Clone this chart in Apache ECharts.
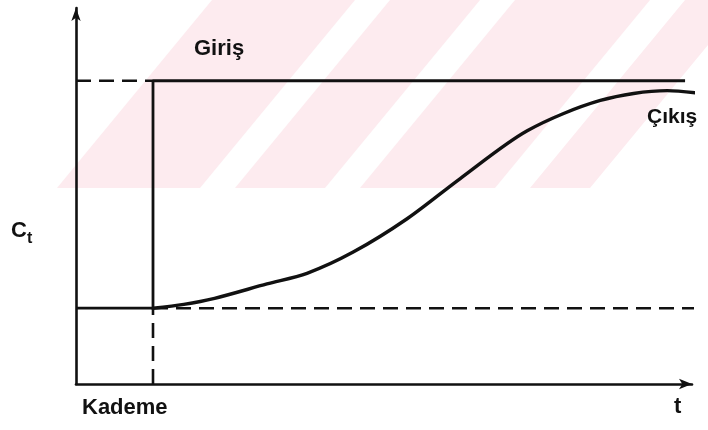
<!DOCTYPE html>
<html><head><meta charset="utf-8">
<script src="https://cdn.jsdelivr.net/npm/echarts@6/dist/echarts.min.js"></script>
<style>html,body{margin:0;padding:0;background:#fff}#c{width:708px;height:430px}</style>
</head><body><div id="c"></div>
<script>
// ---- data ----
const stepTime = 1;
const lowLevel = 1;
const highLevel = 4;
const inputEnd = 7.91;
const dashEnd = 8.25;
const outputTime  = [1.00, 1.40, 1.80, 2.48, 3.00, 3.60, 4.30, 4.99, 5.86, 6.81, 7.68, 8.06];
const outputValue = [1.00, 1.05, 1.13, 1.32, 1.46, 1.74, 2.18, 2.71, 3.34, 3.74, 3.87, 3.84];
const labels = { input: 'Giriş', output: 'Çıkış', yName: 'C', ySub: 't', step: 'Kademe', xName: 't' };

// ---- build ----
const inputLine = [[0, lowLevel], [stepTime, lowLevel], [stepTime, highLevel], [inputEnd, highLevel]];
const outputLine = outputTime.map((t, i) => [t, outputValue[i]]);
const ink = '#111';
const font = 'Liberation Sans';

// faint background watermark bands (decoration)
const bands = [[57, 200], [235, 325], [360, 495], [530, 590]];
const shift = 155;
const bandGraphics = bands.map(b => ({
  type: 'polygon', silent: true, z: -10,
  shape: { points: [[b[0], 188], [b[1], 188], [b[1] + shift, 0], [b[0] + shift, 0]] },
  style: { fill: '#fdebef' }
}));

const chart = echarts.init(document.getElementById('c'), null, { renderer: 'canvas' });
const dashLine = (data) => ({
  type: 'line', data, symbol: 'none', clip: false, silent: true,
  lineStyle: { color: ink, width: 2.6, type: [15, 8] }, z: 3
});
chart.setOption({
  animation: false,
  backgroundColor: '#fff',
  grid: { left: 76, right: 16, top: 8, bottom: 46 },
  xAxis: {
    type: 'value', min: 0, max: 8,
    axisLine: { show: true, symbol: ['none', 'arrow'], symbolSize: [8, 13], symbolOffset: [0, 0],
      lineStyle: { color: ink, width: 2.6 } },
    axisTick: { show: false }, axisLabel: { show: false }, splitLine: { show: false }
  },
  yAxis: {
    type: 'value', min: 0, max: 4.96,
    axisLine: { show: true, symbol: ['none', 'arrow'], symbolSize: [7, 13],
      lineStyle: { color: ink, width: 2.6 } },
    axisTick: { show: false }, axisLabel: { show: false }, splitLine: { show: false }
  },
  series: [
    { type: 'line', name: labels.input, data: inputLine, symbol: 'none', silent: true,
      lineStyle: { color: ink, width: 2.8 }, z: 4 },
    dashLine([[0, highLevel], [stepTime, highLevel]]),
    dashLine([[stepTime, lowLevel], [dashEnd, lowLevel]]),
    dashLine([[stepTime, 0], [stepTime, lowLevel]]),
    { type: 'line', name: labels.output, data: outputLine, symbol: 'none', smooth: 0.3,
      clip: false, silent: true,
      lineStyle: { color: ink, width: 3.4, cap: 'round' }, z: 5 }
  ],
  graphic: bandGraphics.concat([
    { type: 'text', left: 194, top: 38, z: 10,
      style: { text: labels.input, font: 'bold 22px "' + font + '"', fill: ink } },
    { type: 'text', left: 647, top: 107, z: 10,
      style: { text: labels.output, font: 'bold 21px "' + font + '"', fill: ink } },
    { type: 'text', left: 11, top: 220, z: 10,
      style: { text: '{a|' + labels.yName + '}{b|' + labels.ySub + '}', fill: ink,
        rich: { a: { font: 'bold 22px "' + font + '"', fill: ink, verticalAlign: 'top' },
                b: { font: 'bold 16px "' + font + '"', fill: ink, padding: [11, 0, 0, 0] } } } },
    { type: 'text', left: 82, top: 397, z: 10,
      style: { text: labels.step, font: 'bold 22px "' + font + '"', fill: ink } },
    { type: 'text', left: 674, top: 396, z: 10,
      style: { text: labels.xName, font: 'bold 22px "' + font + '"', fill: ink } }
  ])
});
</script></body></html>
